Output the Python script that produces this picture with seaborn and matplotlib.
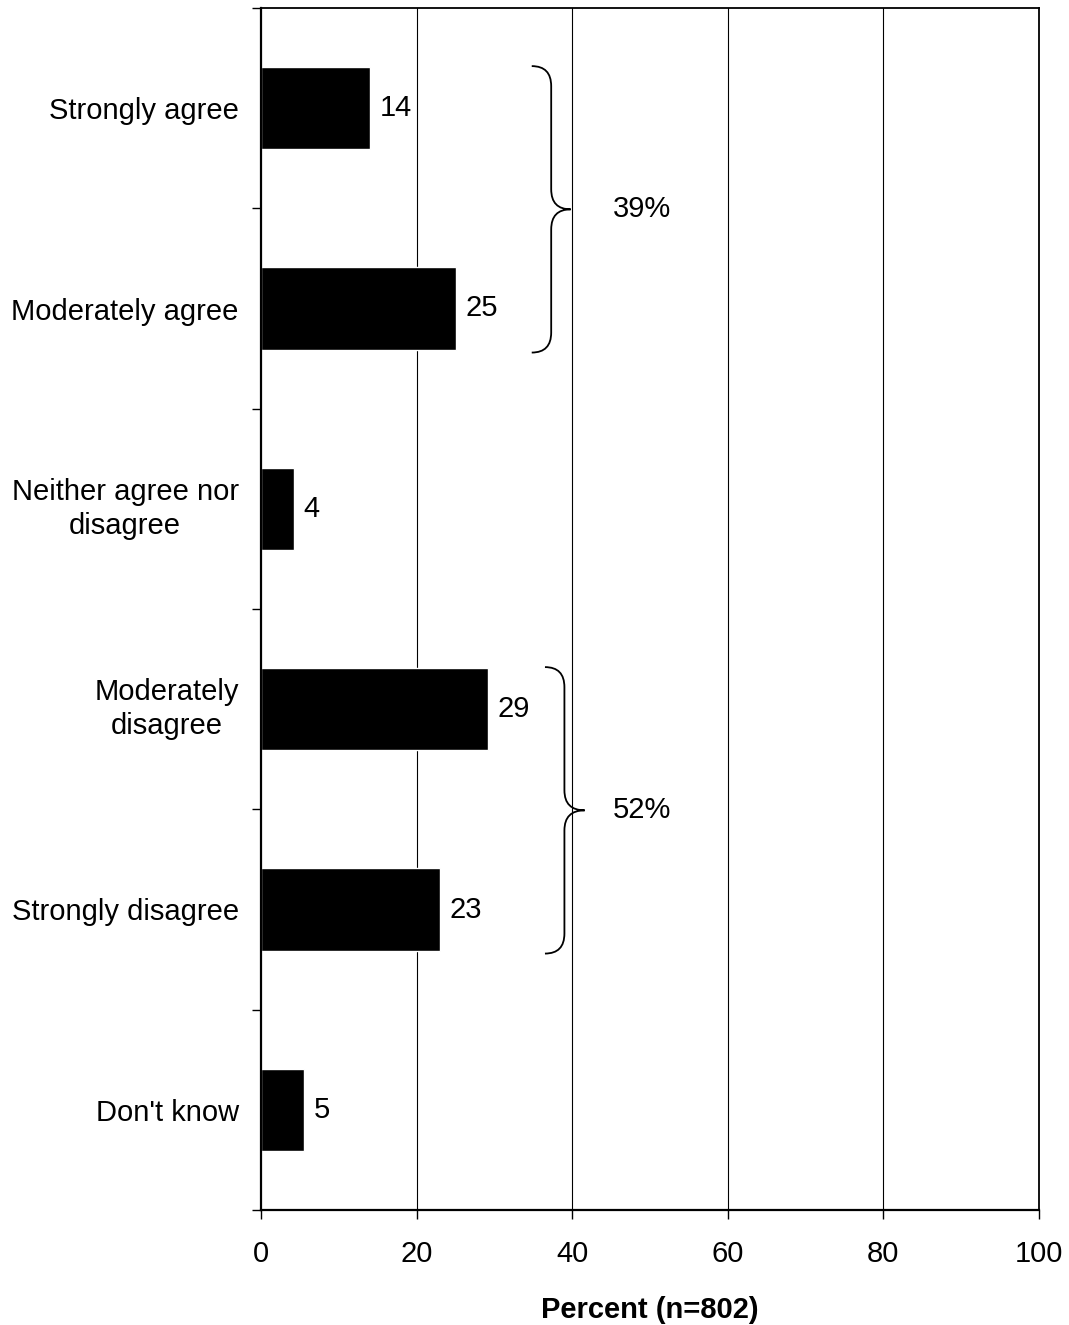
import matplotlib
matplotlib.use("Agg")
import matplotlib.pyplot as plt
from matplotlib.path import Path
from matplotlib.patches import PathPatch
import seaborn as sns
import pandas as pd

categories = ["Strongly agree", "Moderately agree", "Neither agree nor\ndisagree",
              "Moderately\ndisagree", "Strongly disagree", "Don't know"]
values = [14.0, 25.0, 4.2, 29.2, 23.0, 5.5]
value_labels = ["14", "25", "4", "29", "23", "5"]
xticks = [0, 20, 40, 60, 80, 100]
groups = [  # (first index, last index, label)
    (0, 1, "39%"),
    (3, 4, "52%"),
]

sns.set_theme(style="white")
plt.rcParams["font.family"] = ["Liberation Sans", "DejaVu Sans"]
plt.rcParams["text.color"] = "black"
plt.rcParams["axes.labelcolor"] = "black"
plt.rcParams["xtick.color"] = "black"
plt.rcParams["ytick.color"] = "black"
FS = 21

df = pd.DataFrame({"cat": categories, "val": values})

fig = plt.figure(figsize=(10.69, 13.25), dpi=100)
ax = fig.add_axes([261/1069, 1 - 1210/1325, (1039-261)/1069, (1210-8)/1325])

sns.barplot(data=df, y="cat", x="val", orient="h", color="black",
            width=0.41, ax=ax, saturation=1)

ax.set_xlim(0, 100)
ax.set_ylim(len(categories) - 0.5, -0.5)
ax.set_xticks(xticks)
ax.set_xticklabels([str(t) for t in xticks], fontsize=FS)
ax.tick_params(axis="x", direction="out", length=6.5, width=1, color="black",
               labelcolor="black", pad=15, bottom=True)
ax.set_yticks(range(len(categories)))
ax.set_yticklabels(categories, fontsize=FS, multialignment="center",
                   linespacing=1.3)
ax.tick_params(axis="y", which="major", length=0, pad=16, labelcolor="black")
ax.set_yticks([i - 0.5 for i in range(len(categories) + 1)], minor=True)
ax.tick_params(axis="y", which="minor", direction="out", length=6.5, width=1,
               color="black", left=True)
for lbl in ax.get_yticklabels():
    if "\n" in lbl.get_text():
        lbl.set_verticalalignment("center")

for x in xticks[1:-1]:
    ax.axvline(x, color="black", lw=0.8, zorder=0)

for s in ax.spines.values():
    s.set_color("black")
    s.set_linewidth(1.3)
    s.set_visible(True)
ax.spines["bottom"].set_linewidth(1.6)
ax.spines["left"].set_linewidth(1.6)

ax.set_xlabel("Percent (n=802)", fontsize=FS, fontweight="bold", labelpad=20,
              color="black")
ax.set_ylabel("")

ax.bar_label(ax.containers[0], labels=value_labels, padding=7, fontsize=FS,
             color="black")

def brace(ax, x0, xs, xt, ytop, ybot, r):
    ytip = (ytop + ybot) / 2
    verts = [
        (x0, ytop), (xs, ytop), (xs, ytop + r),
        (xs, ytip - r),
        (xs, ytip), (xt, ytip),
        (xs, ytip), (xs, ytip + r),
        (xs, ybot - r),
        (xs, ybot), (x0, ybot),
    ]
    codes = [Path.MOVETO, Path.CURVE3, Path.CURVE3,
             Path.LINETO,
             Path.CURVE3, Path.CURVE3,
             Path.CURVE3, Path.CURVE3,
             Path.LINETO,
             Path.CURVE3, Path.CURVE3]
    ax.add_patch(PathPatch(Path(verts, codes), fill=False, lw=1.3,
                           edgecolor="black", clip_on=False))
    return ytip

brace_x = [(34.8, 37.3, 39.8), (36.5, 39.0, 41.6)]
for (i0, i1, lab), (x0, xs, xt) in zip(groups, brace_x):
    ytop = i0 - 0.21
    ybot = i1 + 0.22
    ytip = brace(ax, x0, xs, xt, ytop, ybot, 0.1)
    ax.text(49.0, ytip, lab, fontsize=FS, va="center", ha="center", color="black")

fig.savefig("out.png", dpi=100, facecolor="white")
